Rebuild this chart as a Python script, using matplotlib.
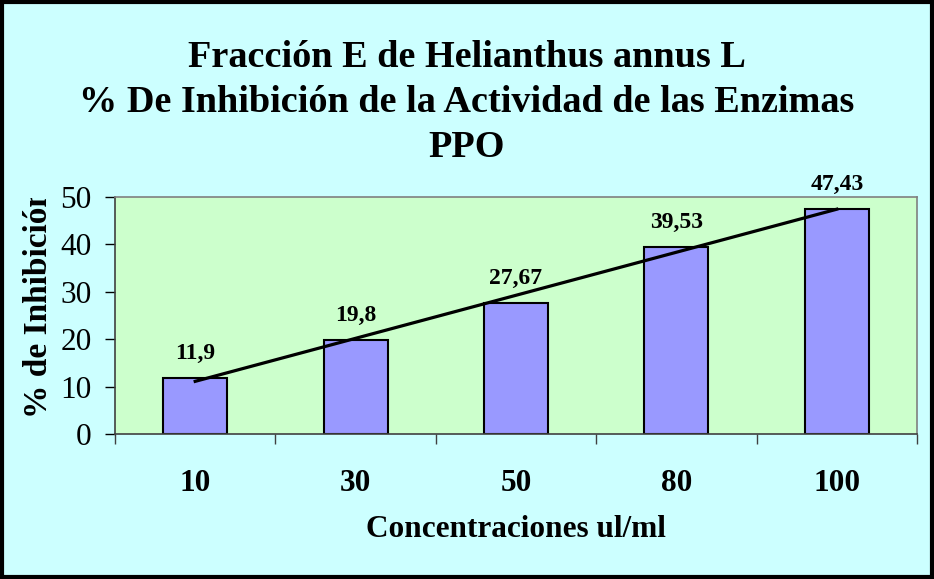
import numpy as np
import matplotlib.pyplot as plt
from matplotlib.transforms import Bbox

# data
concentraciones = ["10", "30", "50", "80", "100"]
inhibicion = [11.9, 19.8, 27.67, 39.53, 47.43]
etiquetas = ["11,9", "19,8", "27,67", "39,53", "47,43"]
titulo = ["Fracción E de Helianthus annus L",
          "% De Inhibición de la Actividad de las Enzimas",
          "PPO"]

plt.rcParams['font.family'] = ['Liberation Serif', 'DejaVu Serif']

W, H = 934, 579
fig = plt.figure(figsize=(W / 100, H / 100), dpi=100, facecolor="#CCFFFF")
ax = fig.add_axes([115 / W, 1 - 434 / H, (917 - 115) / W, (434 - 197) / H])
ax.set_facecolor("#CCFFCC")

x = np.arange(len(inhibicion))
ax.bar(x, inhibicion, width=0.4, color="#9999FF", edgecolor="black", linewidth=1.5, zorder=2)

# linear trendline (Excel style)
m, b = np.polyfit(x, inhibicion, 1)
ax.plot(x[[0, -1]], m * x[[0, -1]] + b, color="black", linewidth=2.3, zorder=3)

for xi, v, lab in zip(x, inhibicion, etiquetas):
    ax.annotate(lab, (xi, v), xytext=(0, 13.5), textcoords="offset points",
                ha="center", va="baseline", fontsize=17, fontweight="bold")

ax.set_xlim(-0.5, len(inhibicion) - 0.5)
ax.set_ylim(0, 50)
ax.set_yticks([0, 10, 20, 30, 40, 50])
ax.tick_params(axis="y", labelsize=22.5, length=7, width=1, pad=10, direction="out", colors="black")

ax.set_xticks(np.arange(-0.5, len(inhibicion)), [""] * (len(inhibicion) + 1))
ax.set_xticks(x, concentraciones, minor=True)
ax.tick_params(axis="x", which="major", length=7, width=1, direction="out", color="#404040")
ax.tick_params(axis="x", which="minor", length=0, pad=25, labelsize=22.5)
for t in ax.get_xticklabels(minor=True):
    t.set_fontweight("bold")

for s in ["top", "right"]:
    ax.spines[s].set_color("#808080")
    ax.spines[s].set_linewidth(1.2)
for s in ["left", "bottom"]:
    ax.spines[s].set_color("#404040")
    ax.spines[s].set_linewidth(1.2)

fig.text(516 / W, 1 - 537 / H, "Concentraciones ul/ml", ha="center", va="baseline",
         fontsize=22.5, fontweight="bold")

ylab = fig.text(47 / W, 1 - 418 / H, "% de Inhibición", rotation=90, ha="left", va="baseline",
                fontsize=24, fontweight="bold", rotation_mode="anchor")
ylab.set_clip_box(Bbox.from_extents(0, 0, W, H - 198))
ylab.set_clip_on(True)

for i, line in enumerate(titulo):
    fig.text(467 / W, 1 - (67 + 45 * i) / H, line, ha="center", va="baseline",
             fontsize=27.5, fontweight="bold")

# outer frame
fig.patches.append(plt.Rectangle((0.002, 0.003), 0.996, 0.994, transform=fig.transFigure,
                                 fill=False, edgecolor="black", linewidth=3))

fig.savefig("out.png", dpi=100, facecolor=fig.get_facecolor())
